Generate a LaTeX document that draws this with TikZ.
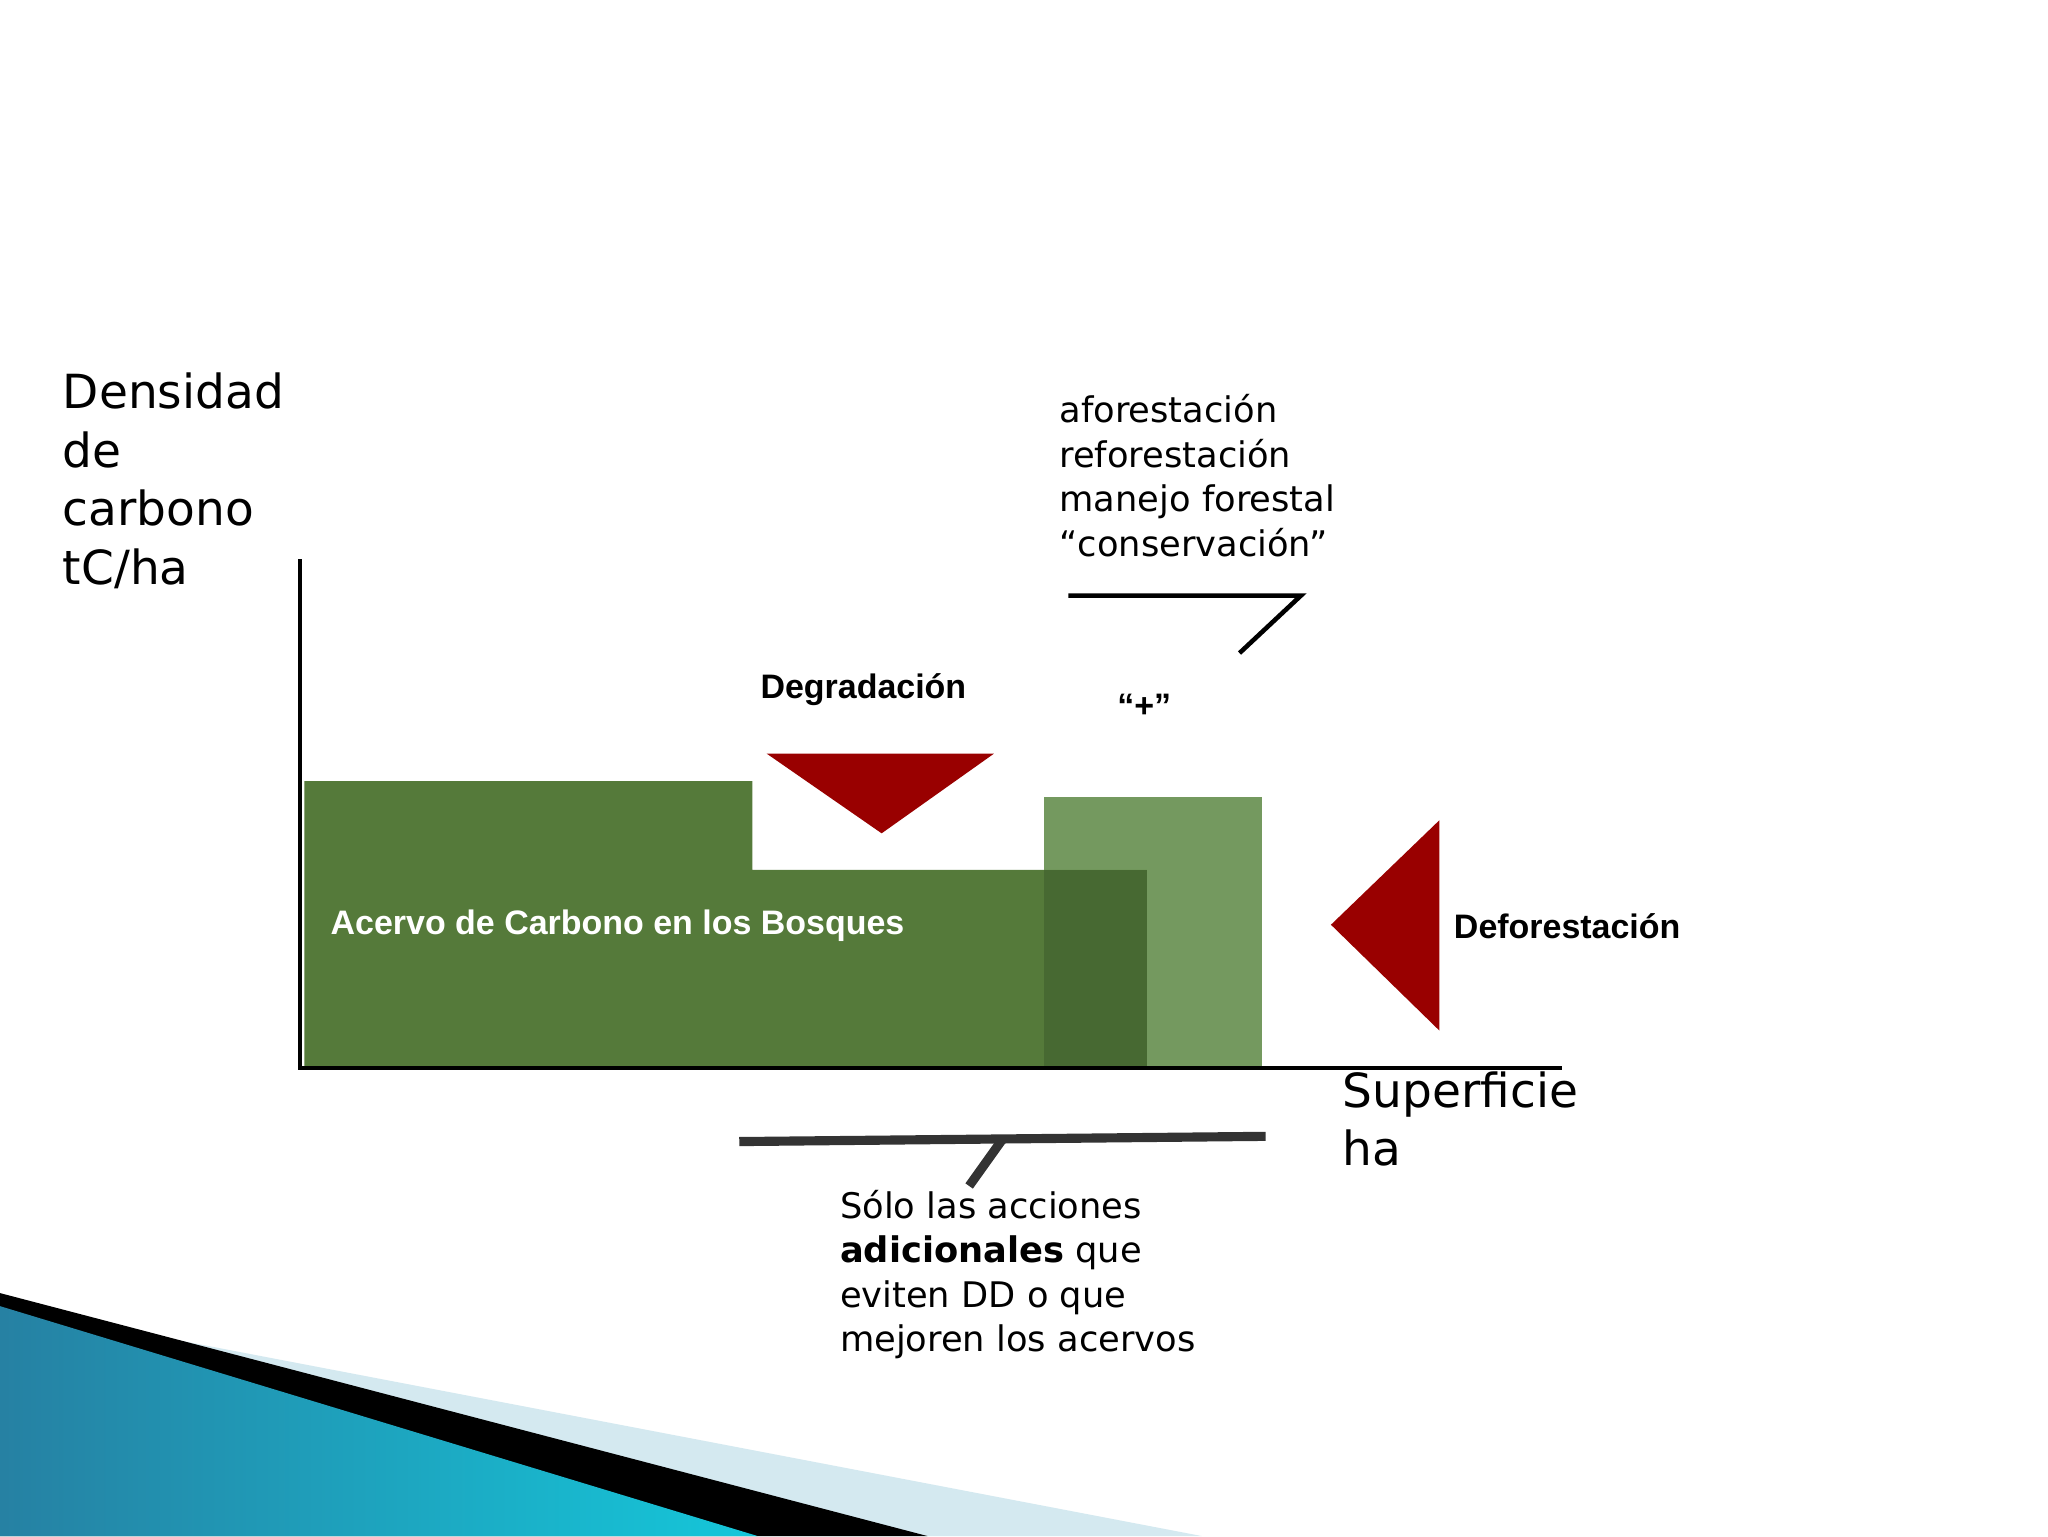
\documentclass[tikz,border=0pt]{standalone}
\usepackage{fontspec}
\setmainfont{DejaVu Sans}
\newfontfamily\arialf{Liberation Sans}
\begin{document}
\begin{tikzpicture}[x=1pt,y=-1pt,
  lbl/.style={font=\arialf\bfseries\fontsize{26}{30}\selectfont,inner sep=0},
  txt/.style={font=\fontsize{27}{34}\selectfont,align=left,anchor=north west,inner sep=0},
  big/.style={font=\fontsize{36}{45}\selectfont,align=left,anchor=north west,inner sep=0},
  tri/.style={fill=red!60!black},
  ax/.style={line width=3pt,black}]
\definecolor{g1}{HTML}{557A3A}
\definecolor{g2}{HTML}{5C8843}
\definecolor{tealb}{HTML}{2A8FB5}
\useasboundingbox (0,0) rectangle (1568,1176);
\fill[white] (0,0) rectangle (1568,1176);
% decoration
\fill[tealb!20] (0,1000) -- (920,1176) -- (0,1176) -- cycle;
\fill[black] (0,990) -- (710,1176) -- (0,1176) -- cycle;
\shade[left color=tealb!90!black,right color=cyan!50!tealb] (0,1000) -- (580,1176) -- (0,1176) -- cycle;
% bars
\fill[g1] (233,598) -- (576,598) -- (576,666) -- (878,666) -- (878,818) -- (233,818) -- cycle;
\fill[g2,opacity=0.85] (799,610) rectangle (966,818);
\fill[black!20!g1!80!black,opacity=0.5] (799,666) rectangle (878,818);
\node[lbl,text=white,anchor=west] (acervo) at (253,709) {Acervo de Carbono en los Bosques};
% axes
\coordinate (o) at (230,818);
\coordinate (ytop) at (230,428);
\coordinate (xend) at (1196,818);
\draw[ax] (ytop) -- (o) -- (xend);
% triangles
\fill[tri] (587,577) -- (761,577) -- (675,638) -- cycle;
\fill[tri] (1102,628) -- (1102,789) -- (1019,708) -- cycle;
\node[lbl] (deg) at (661,528) {Degradación};
\node[lbl] (plus) at (876,540) {“+”};
\node[lbl,anchor=west] (def) at (1113,709) {Deforestación};
% brackets
\coordinate (b1) at (818,456); \coordinate (b2) at (996,456); \coordinate (b3) at (949,500);
\draw[line width=3.5pt] (b1) -- (b2) -- (b3);
\coordinate (c1) at (566,874); \coordinate (c2) at (969,870);
\coordinate (c3) at (767,873); \coordinate (c4) at (742,908);
\draw[line width=7pt,black!80] (c1) -- (c2);
\draw[line width=7pt,black!80] (c3) -- (c4);
% texts
\node[big] (dens) at (48,285) {Densidad\\de\\carbono\\tC/ha};
\node[big] (sup) at (1028,820) {Superficie\\ha};
\node[txt] (acc) at (811,302) {aforestación\\reforestación\\manejo forestal\\“conservación”};
\node[txt] (solo) at (643,911) {Sólo las acciones\\\textbf{adicionales} que\\eviten DD o que\\mejoren los acervos};
\end{tikzpicture}
\end{document}
